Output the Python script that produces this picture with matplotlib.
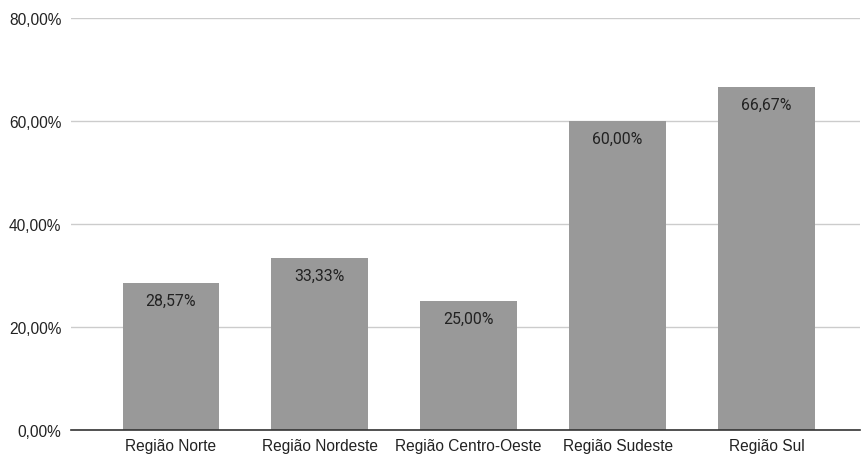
import matplotlib
matplotlib.use("Agg")
import matplotlib.pyplot as plt
from matplotlib.ticker import FuncFormatter

categories = ["Região Norte", "Região Nordeste", "Região Centro-Oeste", "Região Sudeste", "Região Sul"]
values = [28.57, 33.33, 25.00, 60.00, 66.67]
yticks = [0, 20, 40, 60, 80]

def br(v):
    return f"{v:.2f}".replace(".", ",") + "%"

fig = plt.figure(figsize=(8.61, 4.56), dpi=100)
W, H = 861, 456
ax = fig.add_axes([71 / W, (H - 431) / H, (860 - 71) / W, (431 - 19) / H])

x = list(range(len(categories)))
ax.bar(x, values, width=0.65, color="#999999", zorder=3)

for xi, v in zip(x, values):
    ax.annotate(br(v), (xi, v), xytext=(0, -12.5), textcoords="offset points",
                ha="center", va="center", fontsize=11.4, color="#222222",
                family=["Roboto", "DejaVu Sans"], zorder=4)

ax.set_ylim(0, 80)
ax.set_xlim(-0.5 - 25.5 / 149, 4.5 + 19 / 149)
ax.set_yticks(yticks)
ax.yaxis.set_major_formatter(FuncFormatter(lambda v, p: br(v)))
ax.set_xticks(x)
ax.set_xticklabels(categories)

ax.grid(axis="y", color="#cccccc", linewidth=1, zorder=0)
for s in ["top", "right", "left"]:
    ax.spines[s].set_visible(False)
ax.spines["bottom"].set_color("#333333")
ax.spines["bottom"].set_linewidth(1.2)
ax.spines["bottom"].set_zorder(5)

ax.tick_params(axis="both", length=0, labelsize=11.2, labelcolor="#222222")
ax.tick_params(axis="y", pad=7)
ax.tick_params(axis="x", pad=6)
for lab in ax.get_xticklabels() + ax.get_yticklabels():
    lab.set_family(["Liberation Sans", "DejaVu Sans"])

fig.savefig("out.png", dpi=100)
